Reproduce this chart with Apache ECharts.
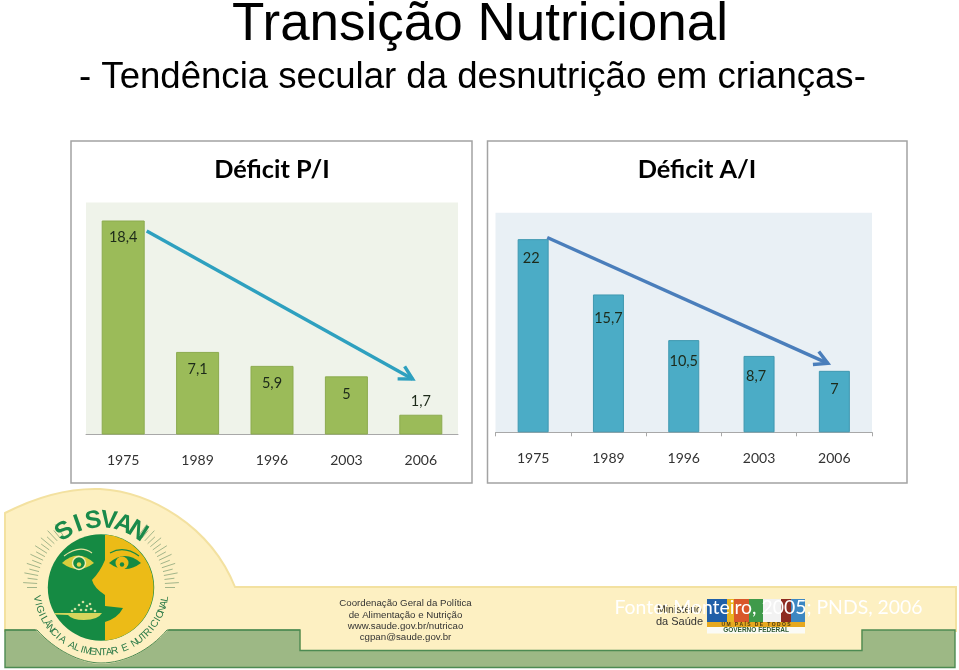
<!DOCTYPE html>
<html>
<head>
<meta charset="utf-8">
<style>html,body{margin:0;padding:0;background:#fff}#c{width:959px;height:670px}</style>
<script src="https://cdn.jsdelivr.net/npm/echarts@6/dist/echarts.min.js"></script>
</head>
<body>
<div id="c"></div>
<script>
// Data
const years = ['1975', '1989', '1996', '2003', '2006'];
const deficitPI = [18.4, 7.1, 5.9, 5, 1.7];
const deficitAI = [22, 15.7, 10.5, 8.7, 7];
// Trend arrows, in data units: [category position, value] start then end
const trendPI = [[0.316, 17.5, 3.89, 4.77]];
const trendAI = [[0.187, 22.18, 3.914, 7.85]];
// Label nudges (px) for the value labels
const nudgePI = [[0, 9], [0, 10], [0, 10], [0, 10], [0, -21]];
const nudgeAI = [[-2, 12], [0, 16], [0, 14], [-3, 13], [0, 11]];

const SANS = '"Liberation Sans", Arial, sans-serif';
const CAL = 'Lato, "Open Sans", sans-serif';
const comma = v => String(v).replace('.', ',');

function arrowItem(color) {
  return function (params, api) {
    const a = api.coord([api.value(0), api.value(1)]);
    const b = api.coord([api.value(2), api.value(3)]);
    const ang = Math.atan2(a[1] - b[1], a[0] - b[0]);
    const arm = s => [b[0] + 15 * Math.cos(ang + s), b[1] + 15 * Math.sin(ang + s)];
    const st = { stroke: color, lineWidth: 3.4, fill: null };
    return { type: 'group', children: [
      { type: 'line', shape: { x1: a[0], y1: a[1], x2: b[0], y2: b[1] }, style: st },
      { type: 'polyline', shape: { points: [arm(-0.5), b, arm(0.5)] }, style: st }
    ] };
  };
}

function barSeries(values, nudges, fill, edge, gridIndex) {
  return {
    type: 'bar', xAxisIndex: gridIndex * 2, yAxisIndex: gridIndex,
    barWidth: gridIndex === 0 ? 43 : 31,
    data: values.map((v, i) => ({
      value: v,
      label: { offset: nudges[i] }
    })),
    itemStyle: { color: fill, borderColor: edge, borderWidth: 1 },
    label: {
      show: true, position: 'insideTop', distance: 0, color: '#1d2a1a',
      fontFamily: CAL, fontSize: 14.5, formatter: p => comma(p.value)
    },
    silent: true
  };
}

// Decoration: banner and logo
const g = [];
let pathCount = 0;
const P = (d, style, z) => {
  const name = 'deco' + (pathCount++);
  echarts.graphic.registerShape(name, echarts.graphic.extendPath(d, {}));
  g.push({ type: name, style, z: z === undefined ? -5 : z, silent: true });
};
const T = (text, x, y, font, fill, extra) => g.push(Object.assign({
  type: 'text', x, y, silent: true, z: -2,
  style: { text, x: 0, y: 0, font, fill, align: 'center', verticalAlign: 'middle' }
}, extra || {}));

// Chart panels
[[71, 141, 401, 342], [487.5, 141, 419.5, 342]].forEach(r => g.push({
  type: 'rect', shape: { x: r[0], y: r[1], width: r[2], height: r[3] }, z: -10, silent: true,
  style: { fill: '#fff', stroke: '#a3a3a3', lineWidth: 1.5 }
}));

const YEL = '#fdf0c2';
const DG = '#4d8a52';
P('M5,513 C40,495 70,488 100,489 C150,492 210,525 235,587 L956,587 L956,631 L862,631 L862,651 L300,651 L300,631 L5,631 Z', { fill: YEL, stroke: '#f3e1a0', lineWidth: 2 });
P('M5,630 L300,630 L300,650.5 L862,650.5 L862,630 L955,630 L955,667.5 L5,667.5 Z', { fill: '#9db885', stroke: DG, lineWidth: 1.4 });
P('M35,629 C55,650 80,664 101,664 C125,664 150,650 169,629 Z', { fill: YEL });
P('M5,630 L37,630 C55,650 80,663 101,663 C125,663 150,650 167,630 L300,630', { fill: null, stroke: DG, lineWidth: 1 });

const CX = 101, CY = 587.5, R = 53.2;
g.push({ type: 'circle', shape: { cx: CX, cy: CY, r: R }, style: { fill: '#158a43' }, z: -4, silent: true });
P('M105,534.5 L105,560 Q100,572 92,580 Q94,588 105,595 L105,606 L123,608 Q118,618 105,622 L105,640.5 A53.2,53.2 0 0 0 105,534.5 Z', { fill: '#ecbb17' }, -3);
// eyes
P('M62,563 Q78,548 94,563 Q78,575 62,563 Z', { fill: '#d8cd3c' }, -3);
g.push({ type: 'circle', shape: { cx: 79, cy: 563, r: 6.5 }, style: { fill: '#158a43', stroke: '#f2eeb0', lineWidth: 1.4 }, z: -2, silent: true });
g.push({ type: 'circle', shape: { cx: 79, cy: 564.5, r: 2.2 }, style: { fill: '#e3d64f' }, z: -2, silent: true });
P('M109,563 Q125,549 141,563 Q125,575 109,563 Z', { fill: '#158a43' }, -3);
g.push({ type: 'circle', shape: { cx: 122, cy: 563, r: 6.5 }, style: { fill: '#ecbb17' }, z: -2, silent: true });
g.push({ type: 'circle', shape: { cx: 122, cy: 564.5, r: 2.2 }, style: { fill: '#158a43' }, z: -2, silent: true });
P('M64,556 Q80,544 92,553', { fill: null, stroke: '#e8e2a0', lineWidth: 1.1 }, -3);
P('M110,553 Q124,545 139,556', { fill: null, stroke: '#158a43', lineWidth: 1.1 }, -3);
// spoon & food
P('M55,613 L102,613 Q98,620 84,620 Q72,620 68,615 L55,614.5 Z', { fill: '#d5d55c' }, -2);
[[75,609],[79,605],[83,602],[87,606],[91,609],[95,611],[81,610],[86,610],[72,611],[90,604]].forEach(p =>
  g.push({ type: 'circle', shape: { cx: p[0], cy: p[1], r: 1.3 }, style: { fill: '#cfe0a0' }, z: -2, silent: true }));

// rays
for (const side of [-1, 1]) {
  for (let a = 36; a <= 92; a += 3.6) {
    const rad = a * Math.PI / 180, outer = Math.round(a / 3.6) % 2 === 0 ? 78 : 74;
    const sx = Math.sin(rad) * side, cy = Math.cos(rad);
    g.push({ type: 'line', silent: true, z: -3,
      shape: { x1: CX + 64 * sx, y1: CY - 64 * cy, x2: CX + outer * sx, y2: CY - outer * cy },
      style: { stroke: '#8aa57a', lineWidth: 0.8 } });
  }
}
// SISVAN on arc
const logoTop = 'SISVAN';
[...logoTop].forEach((ch, i) => {
  const a = (-33 + i * 13.2) * Math.PI / 180;
  T(ch, CX + 67 * Math.sin(a), CY - 67 * Math.cos(a), 'bold 25px ' + SANS, '#1a8a4a', { rotation: -a });
});
// lower arc text
const logoLow = 'VIGILÂNCIA ALIMENTAR E NUTRICIONAL';
[...logoLow].forEach((ch, i) => {
  const a = (-80 + i * 160 / (logoLow.length - 1)) * Math.PI / 180;
  T(ch, CX + 65 * Math.sin(a), CY + 65 * Math.cos(a), '10px ' + SANS, '#2c7a48', { rotation: a });
});

// footer text
const contact = ['Coordenação Geral da Política', 'de Alimentação e Nutrição', 'www.saude.gov.br/nutricao', 'cgpan@saude.gov.br'];
[603, 615, 626, 637].forEach((y, i) => T(contact[i], 405.5, y, '9.7px ' + SANS, '#333'));
T('Ministério', 679.5, 610, '10.5px ' + SANS, '#333');
T('da Saúde', 679.5, 622, '11px ' + SANS, '#333');

// federal logo
[[707, 20, '#1f5fa8'], [727, 7, '#e9b422'], [734, 15, '#d9572a'], [749, 14, '#3f9a4a'], [763, 18, '#f2f2f2'], [781, 10, '#8d2a20'], [791, 14, '#3d87c2']].forEach(b =>
  g.push({ type: 'rect', shape: { x: b[0], y: 599, width: b[1], height: 23 }, style: { fill: b[2] }, z: -3, silent: true }));
g.push({ type: 'rect', shape: { x: 707, y: 622, width: 98, height: 5 }, style: { fill: '#e6a81f' }, z: -3, silent: true });
g.push({ type: 'rect', shape: { x: 707, y: 627, width: 98, height: 6.5 }, style: { fill: '#fbfbf6' }, z: -3, silent: true });
T('U M   P A Í S   D E   T O D O S', 756, 624.5, 'bold 5px ' + SANS, '#4a3a10');
T('GOVERNO FEDERAL', 756, 630.3, 'bold 6.5px ' + SANS, '#2f5a33');

// source, white on the pale band
g.push({ type: 'text', x: 768.5, y: 608, silent: true, z: 5,
  style: { text: 'Fonte: Monteiro, 2005; PNDS, 2006', x: 0, y: 0, font: '19.4px ' + CAL, fill: '#ffffff', align: 'center', verticalAlign: 'middle' } });

const hiddenX = i => ({ type: 'value', gridIndex: i, min: -0.5, max: 4.5, show: false });
const catX = (i, ticks) => ({
  type: 'category', gridIndex: i, data: years,
  axisLine: { show: true, lineStyle: { color: '#a8a8a8', width: 1 } },
  axisTick: { show: ticks, length: 4, alignWithLabel: false, lineStyle: { color: '#a8a8a8' } },
  axisLabel: { color: '#333', fontFamily: CAL, fontSize: 14, margin: ticks ? 19.5 : 19, interval: 0 }
});
const valY = (i, max) => ({ type: 'value', gridIndex: i, min: 0, max, show: false, splitLine: { show: false } });

const titleText = (text, left, topPx, size, weight, align) => ({
  text, left, top: topPx, textAlign: align || 'center', padding: 0,
  textStyle: { fontFamily: weight === 'bold' ? CAL : SANS, fontSize: size, fontWeight: weight || 'normal', color: '#000' }
});

const chart = echarts.init(document.getElementById('c'), null, { renderer: 'canvas' });
chart.setOption({
  animation: false,
  backgroundColor: '#fff',
  title: [
    titleText('Transição Nutricional', 480, -1, 53),
    titleText('- Tendência secular da desnutrição em crianças-', 79, 59, 36.6, 'normal', 'left'),
    titleText('Déficit P/I', 272, 157, 25.3, 'bold'),
    titleText('Déficit A/I', 697, 157, 25.3, 'bold')
  ],
  grid: [
    { left: 86, top: 202.5, width: 372, height: 232, show: true, backgroundColor: '#eff3ea', borderWidth: 0 },
    { left: 495.5, top: 212.8, width: 376.5, height: 219.5, show: true, backgroundColor: '#e9f0f5', borderWidth: 0 }
  ],
  xAxis: [catX(0, false), hiddenX(0), catX(1, true), hiddenX(1)],
  yAxis: [valY(0, 232 / 11.63), valY(1, 25)],
  graphic: { elements: g },
  series: [
    barSeries(deficitPI, nudgePI, '#9bbb59', '#8cab4f', 0),
    barSeries(deficitAI, nudgeAI, '#4bacc6', '#3f98b0', 1),
    { type: 'custom', xAxisIndex: 1, yAxisIndex: 0, data: trendPI, clip: false, silent: true, z: 5,
      renderItem: arrowItem('#2ea0bf') },
    { type: 'custom', xAxisIndex: 3, yAxisIndex: 1, data: trendAI, clip: false, silent: true, z: 5,
      renderItem: arrowItem('#4a7ebb') }
  ]
});
</script>
</body>
</html>
